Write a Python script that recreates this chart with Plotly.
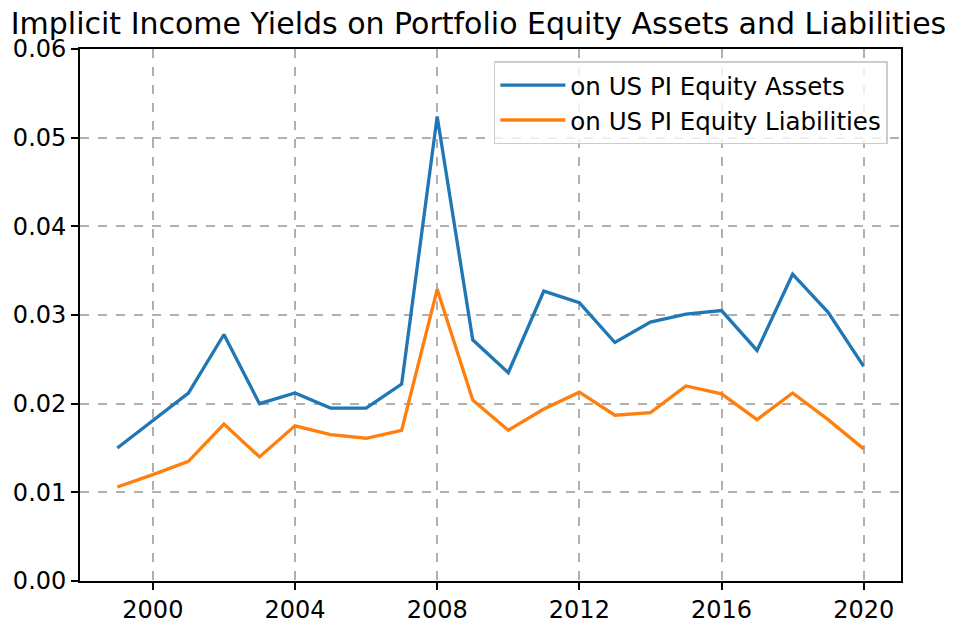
import plotly.graph_objects as go

# Yearly implicit income yields
years = list(range(1999, 2021))
assets_yield = [0.0150, 0.0181, 0.0212, 0.0278, 0.0200, 0.0212, 0.0195, 0.0195,
                0.0222, 0.0524, 0.0272, 0.0235, 0.0327, 0.0314, 0.0269, 0.0292,
                0.0301, 0.0305, 0.0260, 0.0346, 0.0303, 0.0242]
liabilities_yield = [0.0106, 0.0120, 0.0135, 0.0177, 0.0140, 0.0175, 0.0165, 0.0161,
                     0.0170, 0.0329, 0.0204, 0.0170, 0.0194, 0.0213, 0.0187, 0.0190,
                     0.0220, 0.0211, 0.0182, 0.0212, 0.0182, 0.0149]
series_names = ["on US PI Equity Assets", "on US PI Equity Liabilities"]
x_ticks = [2000, 2004, 2008, 2012, 2016, 2020]
y_ticks = [0.00, 0.01, 0.02, 0.03, 0.04, 0.05, 0.06]

FONT = "DejaVu Sans"
# page body has an 8px margin, so the figure is shrunk by that much
W, H = 945, 611

fig = go.Figure()
fig.add_trace(go.Scatter(x=years, y=assets_yield, name=series_names[0], mode="lines",
                         line=dict(color="#1f77b4", width=3.3)))
fig.add_trace(go.Scatter(x=years, y=liabilities_yield, name=series_names[1], mode="lines",
                         line=dict(color="#ff7f0e", width=3.3)))

fig.update_layout(
    width=W, height=H,
    margin=dict(l=72, r=52, t=41, b=38),
    paper_bgcolor="white", plot_bgcolor="white",
    font=dict(family=FONT, size=24, color="black"),
    title=dict(text="Implicit Income Yields on Portfolio Equity Assets and Liabilities",
               x=470.5 / W, xref="container", xanchor="center",
               y=1 - 15 / H, yref="container", yanchor="middle",
               font=dict(family=FONT, size=30, color="black")),
    showlegend=True,
    legend=dict(x=0.984, y=0.977, xanchor="right", yanchor="top",
                itemwidth=65,
                bgcolor="rgba(255,255,255,0.8)", bordercolor="#cccccc", borderwidth=1.5,
                font=dict(family=FONT, size=24.5, color="black")),
)

axis_style = dict(
    showline=True, linecolor="black", linewidth=1.8, mirror=True,
    ticks="outside", ticklen=7, tickwidth=1.8, tickcolor="black",
    showgrid=True, gridcolor="#b0b0b0", gridwidth=1.6, griddash="dash",
    zeroline=False, automargin=False,
)
fig.update_xaxes(range=[1997.95, 2021.05], tickvals=x_ticks, ticklabelstandoff=-1, **axis_style)
fig.update_yaxes(range=[0, 0.06], tickvals=y_ticks, tickformat=".2f", **axis_style)

fig.write_html("out.html")
